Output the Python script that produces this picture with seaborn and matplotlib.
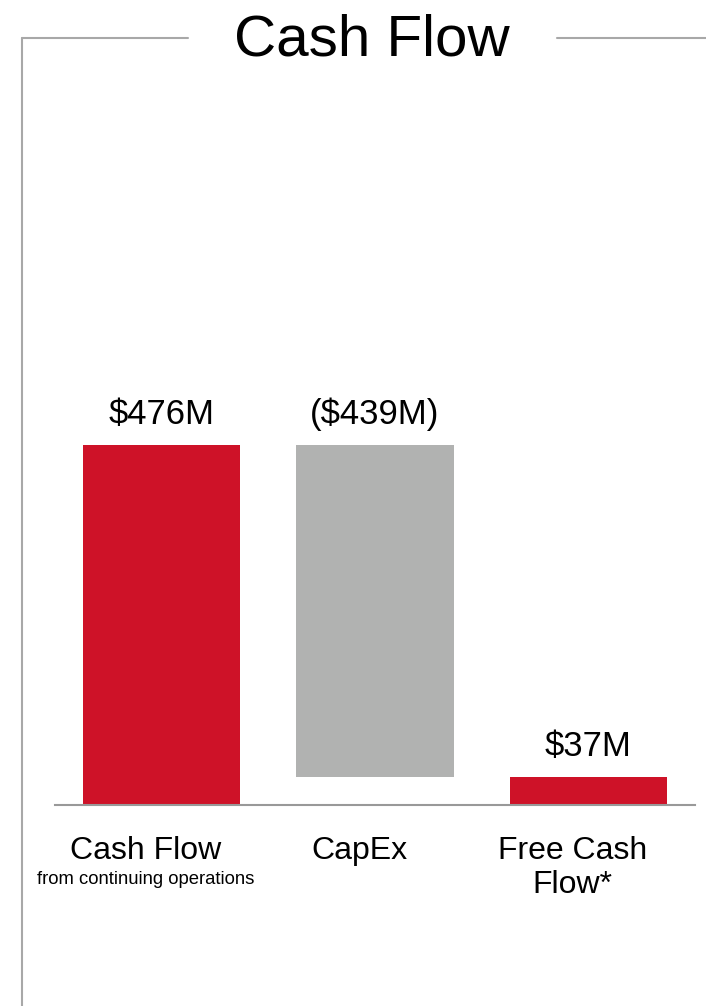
import matplotlib
matplotlib.use("Agg")
import matplotlib.pyplot as plt
import matplotlib.transforms as mtransforms
from matplotlib.lines import Line2D
import seaborn as sns
import numpy as np

# ---- data ----
categories = ["Cash Flow", "CapEx", "Free Cash Flow*"]
values = [476, -439, 37]          # $M
value_labels = ["$476M", "($439M)", "$37M"]
label_lines = [["Cash Flow"], ["CapEx"], ["Free Cash", "Flow*"]]
sub_labels = ["from continuing operations", "", ""]
title = "Cash Flow"

RED = "#CE1228"
GREY = "#B1B2B1"
FRAME = "#A8A8A8"

# waterfall geometry from values
bottoms, heights = [], []
running = 0
for i, v in enumerate(values):
    if i == len(values) - 1:
        bottoms.append(0); heights.append(v)
    elif v >= 0:
        bottoms.append(running); heights.append(v); running += v
    else:
        running += v
        bottoms.append(running); heights.append(-v)
colors = [RED if v >= 0 else GREY for v in values]

sns.set_theme(style="white")
plt.rcParams["font.family"] = ["Liberation Sans", "DejaVu Sans"]

W, H, DPI = 706, 1006, 100
fig = plt.figure(figsize=(W / DPI, H / DPI), dpi=DPI)
ax = fig.add_axes([55 / W, (H - 805) / H, 640 / W, (805 - 100) / H])

sns.barplot(x=categories, y=heights, bottom=bottoms, ax=ax,
            width=0.737, color=RED, saturation=1, linewidth=0)
for p, c in zip(ax.patches, colors):
    p.set_facecolor(c)
    p.set_edgecolor("none")

ax.set_xlim(-0.5, 2.5)
ax.set_ylim(0, 932)
for s in ["top", "left", "right"]:
    ax.spines[s].set_visible(False)
ax.spines["bottom"].set_color("#999999")
ax.spines["bottom"].set_linewidth(1.5)
ax.set_xticks([])
ax.set_yticks([])
ax.set_xlabel("")
ax.set_ylabel("")

# value labels above bars
for i, (b, h, t) in enumerate(zip(bottoms, heights, value_labels)):
    ax.annotate(t, xy=(i, b + h), xytext=(0, 15), textcoords="offset points",
                ha="center", va="baseline", fontsize=25, color="black")

# category labels
trans = mtransforms.blended_transform_factory(ax.transData, fig.transFigure) + \
    mtransforms.ScaledTranslation(-16 / DPI, 0, fig.dpi_scale_trans)
for i, lines in enumerate(label_lines):
    for j, line in enumerate(lines):
        ypix = 859 + j * 34
        ax.text(i, 1 - ypix / H, line, transform=trans, ha="center",
                va="baseline", fontsize=23, color="black", clip_on=False)
    if sub_labels[i]:
        ax.text(i, 1 - 884 / H, sub_labels[i], transform=trans, ha="center",
                va="baseline", fontsize=13.3, color="black", clip_on=False)

# frame lines
ytop = 1 - 38 / H
fig.add_artist(Line2D([22 / W, 188 / W], [ytop, ytop], color=FRAME, lw=1.5))
fig.add_artist(Line2D([557 / W, 1.0], [ytop, ytop], color=FRAME, lw=1.5))
fig.add_artist(Line2D([22 / W, 22 / W], [ytop, 0], color=FRAME, lw=1.5))

fig.text(372 / W, 1 - 55 / H, title, ha="center", va="baseline",
         fontsize=42, color="black")

fig.savefig("out.png", dpi=DPI)
